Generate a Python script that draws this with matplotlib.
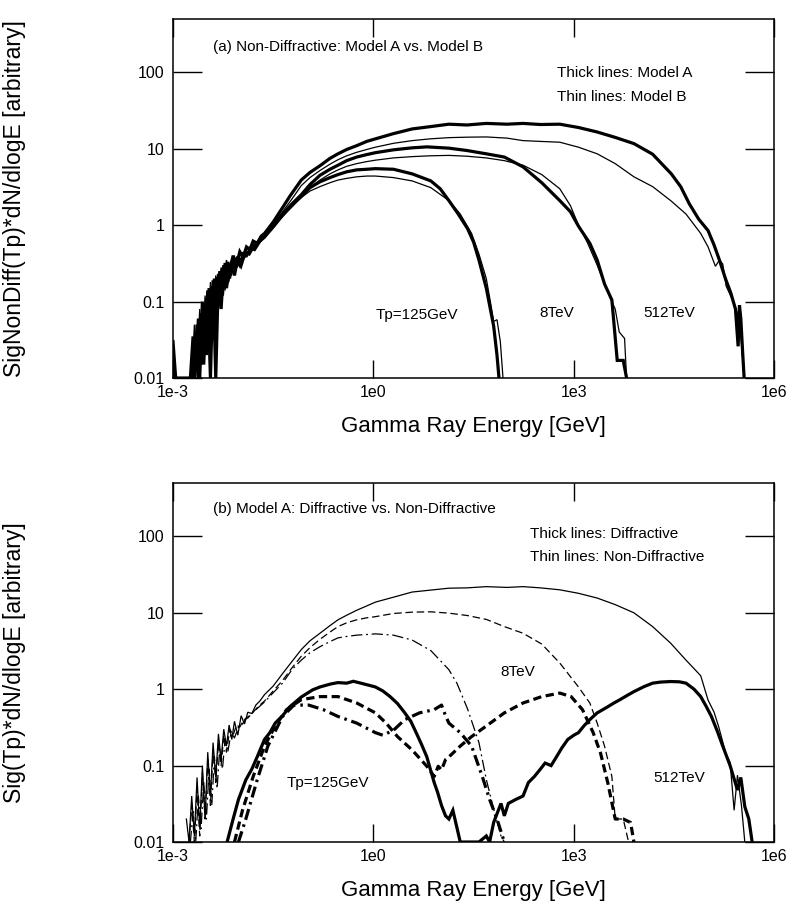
import matplotlib
matplotlib.use("Agg")
import matplotlib.pyplot as plt
from matplotlib.ticker import FixedLocator, NullLocator

plt.rcParams["font.family"] = ["Liberation Sans", "DejaVu Sans"]

# (log10 E [GeV], value)

# panel (a): thick = Model A, thin = Model B
a512 = [(-2.74, 0.01), (-2.70, 0.035), (-2.66, 0.012), (-2.62, 0.06), (-2.58, 0.015), (-2.54, 0.09),
        (-2.50, 0.02), (-2.46, 0.15), (-2.42, 0.05), (-2.38, 0.20), (-2.34, 0.09), (-2.30, 0.25),
        (-2.26, 0.12), (-2.22, 0.32), (-2.18, 0.18), (-2.14, 0.28), (-2.10, 0.40), (-2.05, 0.30),
        (-2.00, 0.45), (-1.95, 0.38), (-1.90, 0.52), (-1.85, 0.48), (-1.80, 0.62), (-1.74, 0.58),
        (-1.68, 0.72), (-1.63, 0.78), (-1.50, 1.1), (-1.36, 1.7), (-1.25, 2.4), (-1.08, 3.9),
        (-0.95, 4.9), (-0.80, 6.0), (-0.65, 7.5), (-0.53, 8.6), (-0.40, 9.8), (-0.25, 11.0),
        (-0.10, 12.5), (0.03, 13.5), (0.30, 15.8), (0.58, 18.2), (0.85, 19.5), (1.13, 21.0),
        (1.40, 20.5), (1.69, 21.5), (2.00, 21.0), (2.24, 21.5), (2.50, 20.8), (2.79, 21.0),
        (3.07, 19.0), (3.35, 16.6), (3.62, 14.1), (3.90, 11.7), (4.18, 8.5), (4.46, 4.7),
        (4.60, 3.2), (4.73, 1.9), (4.87, 1.2), (5.01, 0.85), (5.10, 0.55), (5.18, 0.35),
        (5.27, 0.2), (5.35, 0.13), (5.42, 0.08), (5.46, 0.026), (5.48, 0.09), (5.50, 0.06),
        (5.53, 0.02), (5.55, 0.01)]
b512 = [(-2.72, 0.01), (-2.68, 0.05), (-2.64, 0.015), (-2.60, 0.08), (-2.56, 0.02), (-2.52, 0.12),
        (-2.48, 0.04), (-2.44, 0.18), (-2.40, 0.07), (-2.36, 0.22), (-2.32, 0.12), (-2.28, 0.28),
        (-2.24, 0.2), (-2.20, 0.35), (-2.15, 0.25), (-2.10, 0.38), (-2.05, 0.33), (-2.00, 0.42),
        (-1.95, 0.40), (-1.90, 0.48), (-1.80, 0.55), (-1.72, 0.62), (-1.63, 0.70), (-1.50, 1.0),
        (-1.36, 1.5), (-1.22, 2.2), (-1.08, 3.3), (-0.95, 4.2), (-0.80, 5.2), (-0.65, 6.3),
        (-0.53, 7.2), (-0.40, 8.1), (-0.25, 9.0), (-0.10, 9.8), (0.03, 10.5), (0.30, 11.8),
        (0.58, 12.8), (0.85, 13.5), (1.13, 14.0), (1.40, 14.2), (1.69, 14.3), (2.00, 13.8),
        (2.24, 12.8), (2.50, 12.5), (2.79, 12.2), (3.07, 10.5), (3.35, 8.6), (3.62, 6.4),
        (3.90, 4.3), (4.18, 3.2), (4.45, 2.1), (4.68, 1.4), (4.90, 0.78), (5.01, 0.52),
        (5.12, 0.29), (5.18, 0.35), (5.23, 0.31), (5.28, 0.16), (5.40, 0.095), (5.48, 0.058),
        (5.55, 0.01)]
a8 = [(-3.00, 0.03), (-2.96, 0.01), (-2.70, 0.01), (-2.66, 0.04), (-2.62, 0.01), (-2.58, 0.07),
      (-2.54, 0.015), (-2.50, 0.11), (-2.46, 0.03), (-2.42, 0.16), (-2.38, 0.06), (-2.34, 0.21),
      (-2.30, 0.10), (-2.26, 0.27), (-2.22, 0.16), (-2.18, 0.33), (-2.14, 0.22), (-2.10, 0.30),
      (-2.05, 0.36), (-2.00, 0.30), (-1.95, 0.42), (-1.90, 0.40), (-1.84, 0.50), (-1.78, 0.48),
      (-1.70, 0.62), (-1.63, 0.75), (-1.50, 1.0), (-1.36, 1.4), (-1.22, 1.9), (-1.08, 2.5),
      (-0.95, 3.4), (-0.80, 4.5), (-0.65, 5.4), (-0.53, 6.1), (-0.40, 7.0), (-0.25, 7.8),
      (-0.10, 8.4), (0.03, 8.9), (0.30, 9.7), (0.58, 10.3), (0.80, 10.6), (1.13, 10.2),
      (1.40, 9.5), (1.69, 8.6), (1.96, 7.8), (2.24, 5.8), (2.52, 3.6), (2.79, 2.1), (2.95, 1.5),
      (3.07, 0.97), (3.24, 0.58), (3.35, 0.35), (3.46, 0.17), (3.57, 0.105), (3.65, 0.017),
      (3.74, 0.017), (3.79, 0.01)]
b8 = [(-2.70, 0.01), (-2.66, 0.03), (-2.62, 0.012), (-2.58, 0.05), (-2.54, 0.02), (-2.50, 0.08),
      (-2.46, 0.03), (-2.42, 0.12), (-2.38, 0.05), (-2.34, 0.17), (-2.30, 0.09), (-2.26, 0.22),
      (-2.22, 0.14), (-2.18, 0.27), (-2.14, 0.2), (-2.10, 0.3), (-2.04, 0.28), (-1.98, 0.36),
      (-1.92, 0.38), (-1.85, 0.45), (-1.78, 0.52), (-1.70, 0.60), (-1.63, 0.70), (-1.50, 0.95),
      (-1.36, 1.3), (-1.22, 1.8), (-1.08, 2.3), (-0.95, 3.1), (-0.80, 3.9), (-0.65, 4.7),
      (-0.53, 5.3), (-0.40, 5.9), (-0.25, 6.4), (-0.10, 6.8), (0.03, 7.1), (0.30, 7.6),
      (0.58, 7.9), (0.85, 8.1), (1.13, 8.2), (1.40, 8.0), (1.69, 7.6), (1.96, 7.0), (2.24, 6.1),
      (2.52, 4.6), (2.79, 3.0), (2.95, 1.8), (3.07, 1.0), (3.20, 0.6), (3.35, 0.30), (3.46, 0.17),
      (3.57, 0.10), (3.62, 0.08), (3.68, 0.04), (3.76, 0.033), (3.79, 0.01)]
a125 = [(-2.68, 0.01), (-2.64, 0.05), (-2.60, 0.01), (-2.56, 0.1), (-2.52, 0.02), (-2.48, 0.14),
        (-2.44, 0.01), (-2.40, 0.19), (-2.36, 0.01), (-2.32, 0.23), (-2.28, 0.08), (-2.24, 0.30),
        (-2.20, 0.15), (-2.16, 0.26), (-2.12, 0.34), (-2.08, 0.22), (-2.03, 0.38), (-1.98, 0.30),
        (-1.92, 0.44), (-1.86, 0.42), (-1.80, 0.52), (-1.72, 0.60), (-1.63, 0.70), (-1.50, 0.95),
        (-1.36, 1.35), (-1.22, 1.8), (-1.08, 2.4), (-0.95, 3.1), (-0.80, 3.7), (-0.65, 4.2),
        (-0.53, 4.6), (-0.40, 5.0), (-0.25, 5.3), (-0.10, 5.4), (0.03, 5.5), (0.30, 5.4),
        (0.58, 4.7), (0.86, 3.8), (1.00, 3.0), (1.13, 2.1), (1.27, 1.4), (1.41, 0.9), (1.50, 0.6),
        (1.58, 0.35), (1.69, 0.15), (1.80, 0.048), (1.85, 0.02), (1.88, 0.01)]
b125 = [(-2.66, 0.01), (-2.62, 0.04), (-2.58, 0.015), (-2.54, 0.07), (-2.50, 0.025), (-2.46, 0.1),
        (-2.42, 0.04), (-2.38, 0.15), (-2.34, 0.07), (-2.30, 0.2), (-2.26, 0.12), (-2.22, 0.25),
        (-2.18, 0.18), (-2.14, 0.3), (-2.08, 0.28), (-2.02, 0.35), (-1.95, 0.38), (-1.88, 0.45),
        (-1.80, 0.50), (-1.72, 0.58), (-1.63, 0.68), (-1.50, 0.95), (-1.36, 1.3), (-1.22, 1.8),
        (-1.08, 2.3), (-0.95, 2.8), (-0.80, 3.2), (-0.65, 3.6), (-0.53, 3.9), (-0.40, 4.1),
        (-0.25, 4.3), (-0.10, 4.4), (0.03, 4.4), (0.30, 4.2), (0.58, 3.8), (0.86, 3.1), (1.13, 2.1),
        (1.30, 1.4), (1.47, 0.78), (1.58, 0.42), (1.69, 0.2), (1.76, 0.09), (1.80, 0.055),
        (1.85, 0.058), (1.90, 0.03), (1.94, 0.01)]

# panel (b): thin = Non-Diffractive, thick = Diffractive
nd512 = [(-2.80, 0.02), (-2.76, 0.01), (-2.72, 0.04), (-2.68, 0.012), (-2.64, 0.07), (-2.60, 0.015),
         (-2.56, 0.1), (-2.52, 0.02), (-2.48, 0.15), (-2.44, 0.04), (-2.40, 0.2), (-2.36, 0.07),
         (-2.32, 0.26), (-2.28, 0.12), (-2.24, 0.3), (-2.20, 0.18), (-2.16, 0.34), (-2.12, 0.22),
         (-2.08, 0.38), (-2.03, 0.25), (-1.98, 0.45), (-1.93, 0.35), (-1.88, 0.5), (-1.82, 0.48),
         (-1.76, 0.62), (-1.70, 0.70), (-1.63, 0.85), (-1.50, 1.1), (-1.36, 1.6), (-1.22, 2.3),
         (-1.08, 3.3), (-0.95, 4.3), (-0.80, 5.4), (-0.65, 6.8), (-0.53, 8.1), (-0.40, 9.3),
         (-0.25, 10.8), (-0.10, 12.3), (0.03, 13.8), (0.30, 16.0), (0.58, 18.7), (0.85, 19.8),
         (1.13, 21.0), (1.40, 21.2), (1.69, 22.0), (2.00, 21.5), (2.24, 22.0), (2.50, 21.2),
         (2.79, 20.0), (3.07, 18.0), (3.35, 15.6), (3.62, 12.8), (3.90, 10.0), (4.18, 6.6),
         (4.45, 4.0), (4.68, 2.4), (4.79, 1.9), (4.90, 1.5), (5.01, 0.72), (5.10, 0.5), (5.17, 0.32),
         (5.28, 0.14), (5.34, 0.11), (5.40, 0.026), (5.45, 0.075), (5.51, 0.03), (5.56, 0.01)]
nd8 = [(-2.76, 0.01), (-2.72, 0.03), (-2.68, 0.01), (-2.64, 0.05), (-2.60, 0.012), (-2.56, 0.08),
       (-2.52, 0.02), (-2.48, 0.12), (-2.44, 0.03), (-2.40, 0.16), (-2.36, 0.06), (-2.32, 0.2),
       (-2.28, 0.1), (-2.24, 0.25), (-2.20, 0.15), (-2.15, 0.3), (-2.10, 0.25), (-2.05, 0.34),
       (-2.00, 0.32), (-1.94, 0.4), (-1.88, 0.42), (-1.80, 0.5), (-1.72, 0.6), (-1.63, 0.7),
       (-1.50, 0.95), (-1.36, 1.3), (-1.22, 1.9), (-1.08, 2.7), (-0.95, 3.5), (-0.80, 4.5),
       (-0.65, 5.6), (-0.53, 6.6), (-0.40, 7.4), (-0.25, 8.1), (-0.10, 8.6), (0.03, 8.9),
       (0.30, 9.8), (0.58, 10.2), (0.86, 10.3), (1.13, 9.9), (1.41, 9.2), (1.69, 8.2), (1.96, 6.6),
       (2.24, 5.4), (2.52, 3.9), (2.79, 2.2), (3.07, 1.07), (3.24, 0.66), (3.35, 0.36), (3.46, 0.18),
       (3.57, 0.072), (3.62, 0.02), (3.74, 0.02), (3.82, 0.01)]
nd125 = [(-2.74, 0.01), (-2.70, 0.025), (-2.66, 0.01), (-2.62, 0.04), (-2.58, 0.015), (-2.54, 0.06),
         (-2.50, 0.02), (-2.46, 0.09), (-2.42, 0.03), (-2.38, 0.13), (-2.34, 0.05), (-2.30, 0.17),
         (-2.26, 0.09), (-2.22, 0.22), (-2.18, 0.15), (-2.13, 0.27), (-2.08, 0.23), (-2.02, 0.32),
         (-1.96, 0.35), (-1.90, 0.42), (-1.82, 0.48), (-1.72, 0.58), (-1.63, 0.68), (-1.50, 0.9),
         (-1.36, 1.2), (-1.22, 1.8), (-1.08, 2.4), (-0.95, 3.0), (-0.80, 3.6), (-0.65, 4.2),
         (-0.53, 4.7), (-0.40, 4.9), (-0.25, 5.1), (-0.10, 5.2), (0.03, 5.3), (0.30, 5.1),
         (0.58, 4.4), (0.86, 3.2), (1.13, 1.8), (1.25, 1.2), (1.41, 0.55), (1.58, 0.2), (1.69, 0.066),
         (1.80, 0.027), (1.91, 0.012), (1.96, 0.01)]
d512 = [(-2.19, 0.01), (-2.10, 0.02), (-2.02, 0.036), (-1.91, 0.065), (-1.82, 0.09), (-1.74, 0.13),
        (-1.63, 0.22), (-1.55, 0.27), (-1.47, 0.36), (-1.36, 0.45), (-1.25, 0.59), (-1.15, 0.70),
        (-1.08, 0.79), (-0.91, 0.98), (-0.80, 1.07), (-0.64, 1.17), (-0.53, 1.22), (-0.40, 1.2),
        (-0.30, 1.27), (-0.14, 1.17), (0.03, 1.07), (0.14, 0.95), (0.25, 0.8), (0.36, 0.65),
        (0.47, 0.49), (0.56, 0.38), (0.64, 0.27), (0.72, 0.19), (0.80, 0.13), (0.86, 0.085),
        (0.91, 0.06), (0.96, 0.045), (1.02, 0.03), (1.08, 0.022), (1.13, 0.02), (1.19, 0.026),
        (1.30, 0.01), (1.58, 0.01), (1.69, 0.012), (1.74, 0.01), (1.80, 0.018), (1.91, 0.032),
        (1.96, 0.022), (2.02, 0.032), (2.13, 0.036), (2.24, 0.04), (2.32, 0.06), (2.41, 0.072),
        (2.50, 0.09), (2.57, 0.108), (2.66, 0.1), (2.74, 0.13), (2.82, 0.17), (2.91, 0.22),
        (3.00, 0.25), (3.07, 0.27), (3.15, 0.33), (3.24, 0.4), (3.35, 0.49), (3.45, 0.55),
        (3.51, 0.59), (3.60, 0.66), (3.68, 0.72), (3.80, 0.83), (3.90, 0.93), (4.05, 1.08),
        (4.18, 1.2), (4.30, 1.24), (4.45, 1.26), (4.58, 1.25), (4.68, 1.2), (4.80, 1.0), (4.90, 0.8),
        (4.98, 0.6), (5.06, 0.44), (5.15, 0.28), (5.23, 0.18), (5.34, 0.1), (5.45, 0.048),
        (5.50, 0.07), (5.56, 0.029), (5.62, 0.02), (5.67, 0.01)]
d8 = [(-2.08, 0.01), (-1.96, 0.026), (-1.80, 0.072), (-1.63, 0.18), (-1.47, 0.33), (-1.30, 0.54),
      (-1.08, 0.73), (-0.80, 0.80), (-0.53, 0.80), (-0.25, 0.66), (0.03, 0.49), (0.19, 0.36),
      (0.36, 0.24), (0.58, 0.16), (0.80, 0.098), (0.91, 0.072), (0.97, 0.098), (1.02, 0.088),
      (1.08, 0.12), (1.13, 0.13), (1.30, 0.18), (1.47, 0.24), (1.69, 0.33), (1.96, 0.49),
      (2.24, 0.66), (2.52, 0.80), (2.79, 0.89), (2.96, 0.80), (3.13, 0.54), (3.29, 0.27),
      (3.40, 0.146), (3.51, 0.059), (3.62, 0.02), (3.74, 0.02), (3.85, 0.018), (3.90, 0.01)]
d125 = [(-2.02, 0.01), (-1.91, 0.02), (-1.74, 0.065), (-1.58, 0.18), (-1.36, 0.44), (-1.19, 0.62),
        (-0.97, 0.62), (-0.75, 0.54), (-0.53, 0.44), (-0.25, 0.36), (0.03, 0.27), (0.14, 0.25),
        (0.30, 0.29), (0.47, 0.40), (0.69, 0.49), (0.91, 0.54), (1.02, 0.62), (1.08, 0.45),
        (1.13, 0.36), (1.30, 0.27), (1.47, 0.18), (1.63, 0.072), (1.74, 0.036), (1.85, 0.02),
        (1.96, 0.01)]

x_ticks = [1e-3, 1e0, 1e3, 1e6]
x_ticklabels = ["1e-3", "1e0", "1e3", "1e6"]
y_ticks = [0.01, 0.1, 1, 10, 100]
y_ticklabels = ["0.01", "0.1", "1", "10", "100"]

THICK = 2.3
THIN = 0.9
NOTE = 11


def draw(ax, pts, lw, dashes=None):
    xs = [10 ** p[0] for p in pts]
    ys = [p[1] for p in pts]
    if dashes is None:
        ax.plot(xs, ys, color="black", lw=lw, solid_joinstyle="miter")
    else:
        ax.plot(xs, ys, color="black", lw=lw, dashes=dashes)


def setup(ax, ylabel):
    ax.set_xscale("log")
    ax.set_yscale("log")
    ax.set_xlim(1e-3, 1e6)
    ax.set_ylim(0.01, 500)
    ax.xaxis.set_major_locator(FixedLocator(x_ticks))
    ax.xaxis.set_minor_locator(NullLocator())
    ax.yaxis.set_major_locator(FixedLocator(y_ticks))
    ax.yaxis.set_minor_locator(NullLocator())
    ax.set_xticklabels(x_ticklabels)
    ax.set_yticklabels(y_ticklabels)
    ax.tick_params(axis="x", direction="in", length=13, width=1.0, top=True,
                   labelsize=11.5, pad=5)
    ax.tick_params(axis="y", direction="in", length=21, width=1.0, right=True,
                   labelsize=11.5, pad=6)
    for s in ax.spines.values():
        s.set_linewidth(1.1)
    ax.set_xlabel("Gamma Ray Energy [GeV]", fontsize=16)
    ax.xaxis.set_label_coords(0.5, -0.105)
    ax.set_ylabel(ylabel, fontsize=16.5)
    ax.yaxis.set_label_coords(-0.245, 0.5)


fig = plt.figure(figsize=(7.9, 9.05), dpi=100)
ax1 = fig.add_axes([0.219, 0.5823, 0.761, 0.3967])
ax2 = fig.add_axes([0.219, 0.0696, 0.761, 0.3967])

# panel (a)
for curve in (a512, a8, a125):
    draw(ax1, curve, THICK)
for curve in (b512, b8, b125):
    draw(ax1, curve, THIN)
setup(ax1, "SigNonDiff(Tp)*dN/dlogE [arbitrary]")
ax1.text(0.067, 0.923, "(a) Non-Diffractive: Model A vs. Model B", transform=ax1.transAxes,
         fontsize=NOTE, va="center")
ax1.text(0.638, 0.85, "Thick lines: Model A", transform=ax1.transAxes, fontsize=NOTE, va="center")
ax1.text(0.638, 0.784, "Thin lines: Model B", transform=ax1.transAxes, fontsize=NOTE, va="center")
ax1.text(0.405, 0.175, "Tp=125GeV", transform=ax1.transAxes, fontsize=NOTE, ha="center", va="center")
ax1.text(0.638, 0.18, "8TeV", transform=ax1.transAxes, fontsize=NOTE, ha="center", va="center")
ax1.text(0.826, 0.18, "512TeV", transform=ax1.transAxes, fontsize=NOTE, ha="center", va="center")

# panel (b)
draw(ax2, nd512, THIN)
draw(ax2, nd8, THIN, dashes=(6, 3))
draw(ax2, nd125, THIN, dashes=(9, 3, 1.5, 3))
draw(ax2, d512, THICK)
draw(ax2, d8, THICK, dashes=(2.6, 1.4))
draw(ax2, d125, THICK, dashes=(3.5, 1.5, 0.8, 1.5))
setup(ax2, "Sig(Tp)*dN/dlogE [arbitrary]")
ax2.text(0.066, 0.927, "(b) Model A: Diffractive vs. Non-Diffractive", transform=ax2.transAxes,
         fontsize=NOTE, va="center")
ax2.text(0.593, 0.858, "Thick lines: Diffractive", transform=ax2.transAxes, fontsize=NOTE, va="center")
ax2.text(0.593, 0.793, "Thin lines: Non-Diffractive", transform=ax2.transAxes, fontsize=NOTE, va="center")
ax2.text(0.573, 0.474, "8TeV", transform=ax2.transAxes, fontsize=NOTE, ha="center", va="center")
ax2.text(0.258, 0.163, "Tp=125GeV", transform=ax2.transAxes, fontsize=NOTE, ha="center", va="center")
ax2.text(0.842, 0.177, "512TeV", transform=ax2.transAxes, fontsize=NOTE, ha="center", va="center")

fig.savefig("out.png", dpi=100)
